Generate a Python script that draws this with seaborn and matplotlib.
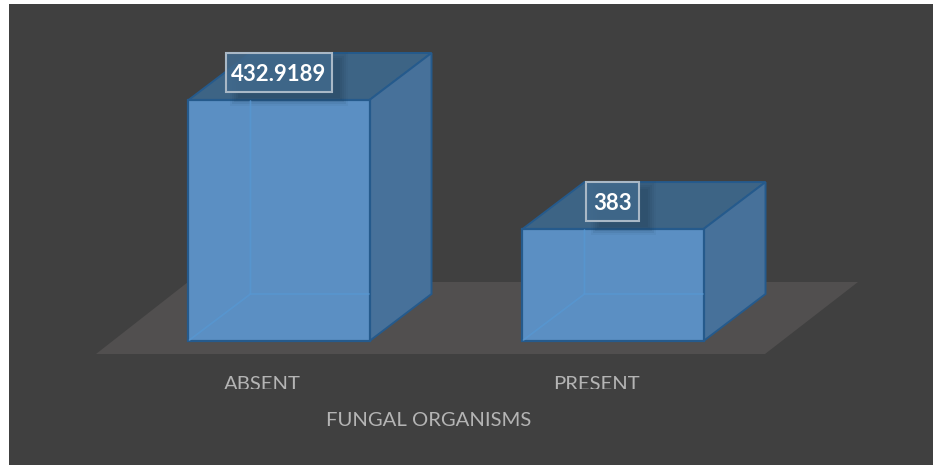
import numpy as np
import seaborn as sns
import matplotlib.pyplot as plt
from matplotlib.patches import Polygon, Rectangle
from matplotlib.transforms import Affine2D, Bbox

categories = ["ABSENT", "PRESENT"]
values = [432.9189, 383]
value_labels = ["432.9189", "383"]
x_title = "FUNGAL ORGANISMS"

W, H = 933, 465
BASE = 339.7
DX, DY = 62, 47  # bar depth in pixels
BG = "#404040"
FRONT = "#5b8fc3"
TOP = "#3d6485"
SIDE = "#47719a"
EDGE = "#255a8c"
FLOOR = "#514f4f"
TEXT = "#b4b4b4"

sns.set_theme(style="white")
plt.rcParams["font.family"] = ["Lato", "DejaVu Sans"]

fig = plt.figure(figsize=(W / 100, H / 100), dpi=100, facecolor="white")
# pixel coordinates, y pointing down like the picture
px = Affine2D().scale(1, -1).translate(0, H)

# figure patches draw above axes by default, so push them below
fig.patches.append(Rectangle((9, 4), W - 9, H - 4, facecolor=BG, edgecolor="none", transform=px, figure=fig,
                             zorder=-2))
fig.patches.append(Polygon([(96, 354), (765, 354), (858, 282), (188, 282)], facecolor=FLOOR, edgecolor="none",
                           transform=px, figure=fig, zorder=-1))

ax = fig.add_axes([112 / W, 1 - 341 / H, 668 / W, 241 / H])
ax.patch.set_alpha(0)
sns.barplot(x=categories, y=values, width=0.542, color=FRONT, saturation=1, ax=ax,
            edgecolor=EDGE, linewidth=1.6, zorder=4)
ax.set_xlim(-0.5, 1.5)
ax.set_ylim(BASE, max(values))
sns.despine(ax=ax, left=True, bottom=True)
ax.set_yticks([])
ax.set_ylabel("")
ax.set_xlabel("")

for patch, label in zip(list(ax.patches), value_labels):
    # bars start at the axis floor, not at zero
    top = patch.get_height()
    patch.set_y(BASE)
    patch.set_height(top - BASE)
    patch.set_clip_on(False)
    x0 = patch.get_x()
    x1 = x0 + patch.get_width()
    (l, b), (r, t) = px.inverted().transform(ax.transData.transform([(x0, BASE), (x1, top)]))

    ax.add_patch(Polygon([(l, t), (r, t), (r + DX, t - DY), (l + DX, t - DY)], facecolor=TOP, edgecolor=EDGE,
                         linewidth=1.4, transform=px, clip_on=False, zorder=2))
    ax.add_patch(Polygon([(r, t), (r + DX, t - DY), (r + DX, b - DY), (r, b)], facecolor=SIDE, edgecolor=EDGE,
                         linewidth=1.4, transform=px, clip_on=False, zorder=2))
    # back edges showing through the front face
    ax.plot([l + 1, l + DX, l + DX], [b - 1, b - DY, t + 1], color="#5797d2", lw=1.2, alpha=0.8, transform=px,
            clip_on=False, zorder=5)
    ax.plot([l + DX, r - 1], [b - DY, b - DY], color="#5797d2", lw=1.2, alpha=0.8, transform=px, clip_on=False,
            zorder=5)

    cx = (l + r) / 2
    half = 53 if len(label) > 3 else 26.5
    # soft shadow under the label box
    for grow, alpha in zip([8, 6, 4, 2, 0], [0.06, 0.09, 0.1, 0.12, 0.14]):
        ax.add_patch(Rectangle((cx - half + 12 - grow, t - 40 - grow), 2 * half - 4 + 2 * grow, 38 + 2 * grow,
                               facecolor="#1f3a55", edgecolor="none", alpha=alpha, transform=px, clip_on=False,
                               zorder=4.5))
    ax.add_patch(Rectangle((cx - half - 0.5, t - 47), 2 * half, 39, facecolor=(0.255, 0.41, 0.55, 0.88),
                           edgecolor="#a9b8c6", linewidth=1.5, transform=px, clip_on=False, zorder=5.5))
    ax.text(cx - 0.5, t - 26, label, transform=px, ha="center", va="center", color="white", fontsize=15.9,
            fontweight="bold", zorder=6)

# tick labels sit left of the bars and are cut off at the bottom in the original
ax.set_xticks(np.arange(len(categories)) - 17 / 334)
ax.set_xticklabels(categories)
ax.tick_params(axis="x", length=0, pad=25.5, labelsize=14.6, labelcolor=TEXT)
clip = Bbox([[0, H - 388.5], [W, H - 365]])
for tick in ax.get_xticklabels():
    tick.set_clip_box(clip)
    tick.set_clip_on(True)

fig.text(429 / W, 1 - 420 / H, x_title, color=TEXT, fontsize=14.6, ha="center", va="center")

fig.savefig("out.png", dpi=100, facecolor=fig.get_facecolor())
